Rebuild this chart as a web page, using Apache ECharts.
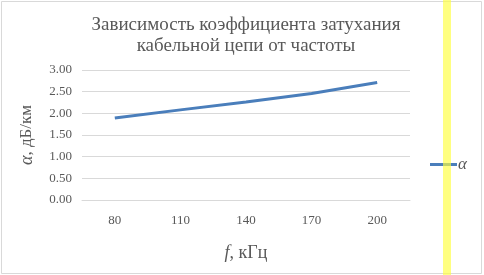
<!DOCTYPE html>
<html><head><meta charset="utf-8">
<script src="https://cdn.jsdelivr.net/npm/echarts@6/dist/echarts.min.js"></script>
<style>html,body{margin:0;padding:0;background:#fff}#c{width:484px;height:275px}</style>
</head><body><div id="c"></div>
<script>
const categories = ['80', '110', '140', '170', '200'];
const alphaValues = [1.89, 2.08, 2.26, 2.46, 2.71];
const yTicks = [0, 0.5, 1, 1.5, 2, 2.5, 3];
const titleText = 'Зависимость коэффициента затухания\nкабельной цепи от частоты';
const seriesName = 'α';

const chart = echarts.init(document.getElementById('c'), null, {renderer: 'canvas'});
const grey = '#595959';
const serif = '"Liberation Serif", "DejaVu Serif", serif';
chart.setOption({
  animation: false,
  backgroundColor: '#fff',
  title: {
    text: titleText, top: 10, left: 241, textAlign: 'center',
    textStyle: {fontFamily: serif, fontSize: 19, fontWeight: 'normal', color: grey, lineHeight: 21}
  },
  legend: {
    data: [{name: seriesName, icon: 'rect'}], left: 425, top: 151, orient: 'vertical',
    itemWidth: 27, itemHeight: 3, itemGap: 4,
    textStyle: {fontFamily: serif, fontSize: 17, fontStyle: 'italic', color: grey, padding: [0, 0, 0, -4]}
  },
  grid: {left: 82, right: 74, top: 70, bottom: 75},
  xAxis: {
    type: 'category', data: categories, boundaryGap: true,
    name: '{i|f}, кГц', nameLocation: 'middle', nameGap: 44,
    nameTextStyle: {fontFamily: serif, fontSize: 18, color: grey,
      rich: {i: {fontFamily: serif, fontSize: 18, fontStyle: 'italic', color: grey}}},
    axisLine: {lineStyle: {color: '#d9d9d9'}},
    axisTick: {show: false},
    axisLabel: {fontFamily: serif, fontSize: 13, color: grey, margin: 14}
  },
  yAxis: {
    type: 'value', min: yTicks[0], max: yTicks[yTicks.length - 1], interval: 0.5,
    name: '{i|α}, дБ/км', nameLocation: 'middle', nameGap: 46, nameRotate: 90,
    nameTextStyle: {fontFamily: serif, fontSize: 17, color: grey,
      rich: {i: {fontFamily: serif, fontSize: 18, fontStyle: 'italic', color: grey}}},
    axisLine: {show: false}, axisTick: {show: false},
    splitLine: {lineStyle: {color: '#d9d9d9'}},
    axisLabel: {fontFamily: serif, fontSize: 13, color: grey, margin: 10,
      formatter: v => v.toFixed(2)}
  },
  series: [{
    name: seriesName, type: 'line', data: alphaValues,
    symbol: 'none', lineStyle: {color: '#4a7ebb', width: 3}, itemStyle: {color: '#4a7ebb'}
  }],
  graphic: [
    {type: 'rect', shape: {x: 1.5, y: 1.5, width: 480, height: 272},
     style: {fill: 'none', stroke: '#d9d9d9', lineWidth: 1}, z: 50},
    {type: 'rect', shape: {x: 443, y: 0, width: 8, height: 275},
     style: {fill: 'rgba(255,255,60,0.65)'}, z: 100}
  ]
});
</script></body></html>
